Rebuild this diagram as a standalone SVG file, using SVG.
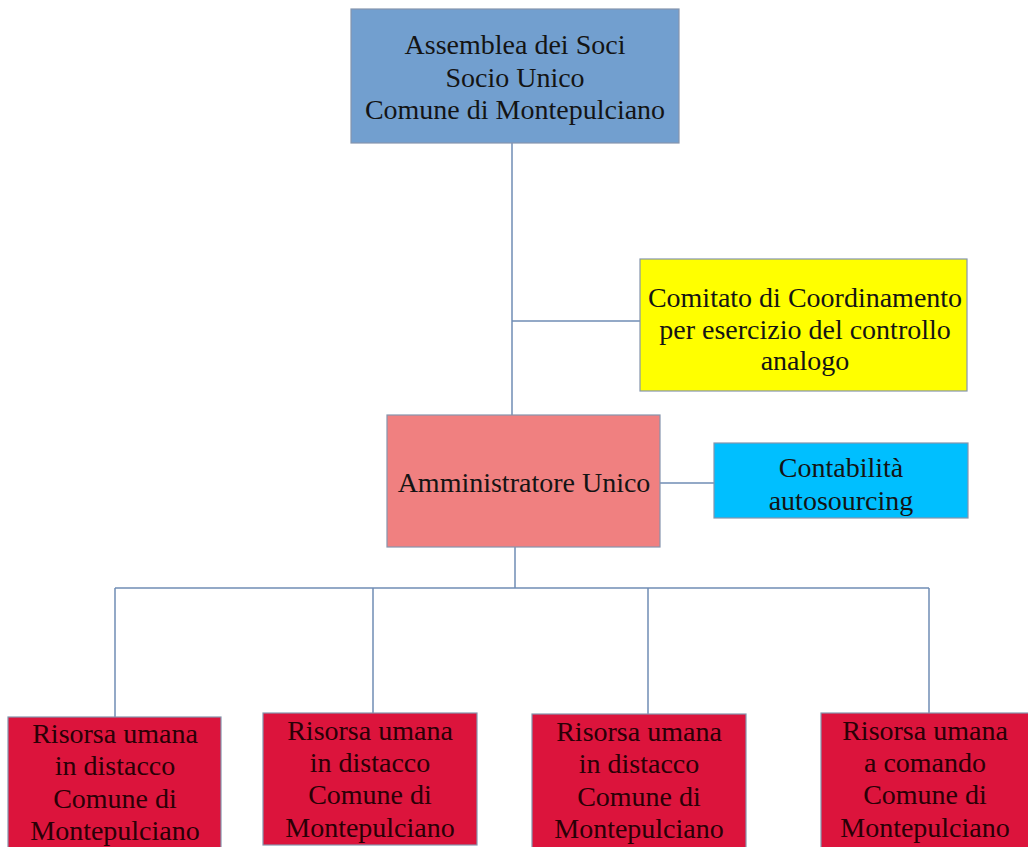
<svg xmlns="http://www.w3.org/2000/svg" width="1028" height="847" viewBox="0 0 1028 847">
<style>
.box{stroke:#8595ad;stroke-width:1.2}
.t{font-family:"Liberation Serif","Times New Roman",serif;font-size:28px;text-anchor:middle;fill:#141414}
.tr{fill:#2a0006}
.c{fill:none;stroke:#6f8db5;stroke-width:1.5}
</style>
<rect width="1028" height="847" fill="#ffffff"/>
<g id="connectors">
<path class="c" d="M512 143V415"/>
<path class="c" d="M512 321H640"/>
<path class="c" d="M660 483H714"/>
<path class="c" d="M515 547V588"/>
<path class="c" d="M115 588H929"/>
<path class="c" d="M115 588V717"/>
<path class="c" d="M373 588V713"/>
<path class="c" d="M648 588V714"/>
<path class="c" d="M929 588V713"/>
</g>
<g id="assemblea">
<rect class="box" x="351" y="9" width="328" height="134" fill="#729fcf"/>
<text class="t" x="515" y="54">Assemblea dei Soci</text>
<text class="t" x="515" y="87">Socio Unico</text>
<text class="t" x="515" y="119">Comune di Montepulciano</text>
</g>
<g id="comitato">
<rect class="box" x="640" y="259" width="327" height="132" fill="#ffff00"/>
<text class="t" x="805" y="307">Comitato di Coordinamento</text>
<text class="t" x="805" y="339">per esercizio del controllo</text>
<text class="t" x="805" y="370">analogo</text>
</g>
<g id="amministratore">
<rect class="box" x="387" y="415" width="273" height="132" fill="#f08080"/>
<text class="t" x="524" y="492">Amministratore Unico</text>
</g>
<g id="contabilita">
<rect class="box" x="714" y="443" width="254" height="75" fill="#00bfff"/>
<text class="t" x="841" y="477">Contabilità</text>
<text class="t" x="841" y="510">autosourcing</text>
</g>
<g id="risorsa1">
<rect class="box" x="8" y="717" width="213" height="135" fill="#dc143c"/>
<text class="t tr" x="115" y="743">Risorsa umana</text>
<text class="t tr" x="115" y="775">in distacco</text>
<text class="t tr" x="115" y="808">Comune di</text>
<text class="t tr" x="115" y="840">Montepulciano</text>
</g>
<g id="risorsa2">
<rect class="box" x="263" y="713" width="214" height="132" fill="#dc143c"/>
<text class="t tr" x="370" y="740">Risorsa umana</text>
<text class="t tr" x="370" y="772">in distacco</text>
<text class="t tr" x="370" y="804">Comune di</text>
<text class="t tr" x="370" y="837">Montepulciano</text>
</g>
<g id="risorsa3">
<rect class="box" x="532" y="714" width="214" height="138" fill="#dc143c"/>
<text class="t tr" x="639" y="741">Risorsa umana</text>
<text class="t tr" x="639" y="773">in distacco</text>
<text class="t tr" x="639" y="806">Comune di</text>
<text class="t tr" x="639" y="838">Montepulciano</text>
</g>
<g id="risorsa4">
<rect class="box" x="821" y="713" width="212" height="139" fill="#dc143c"/>
<text class="t tr" x="925" y="740">Risorsa umana</text>
<text class="t tr" x="925" y="772">a comando</text>
<text class="t tr" x="925" y="804">Comune di</text>
<text class="t tr" x="925" y="837">Montepulciano</text>
</g>
</svg>
